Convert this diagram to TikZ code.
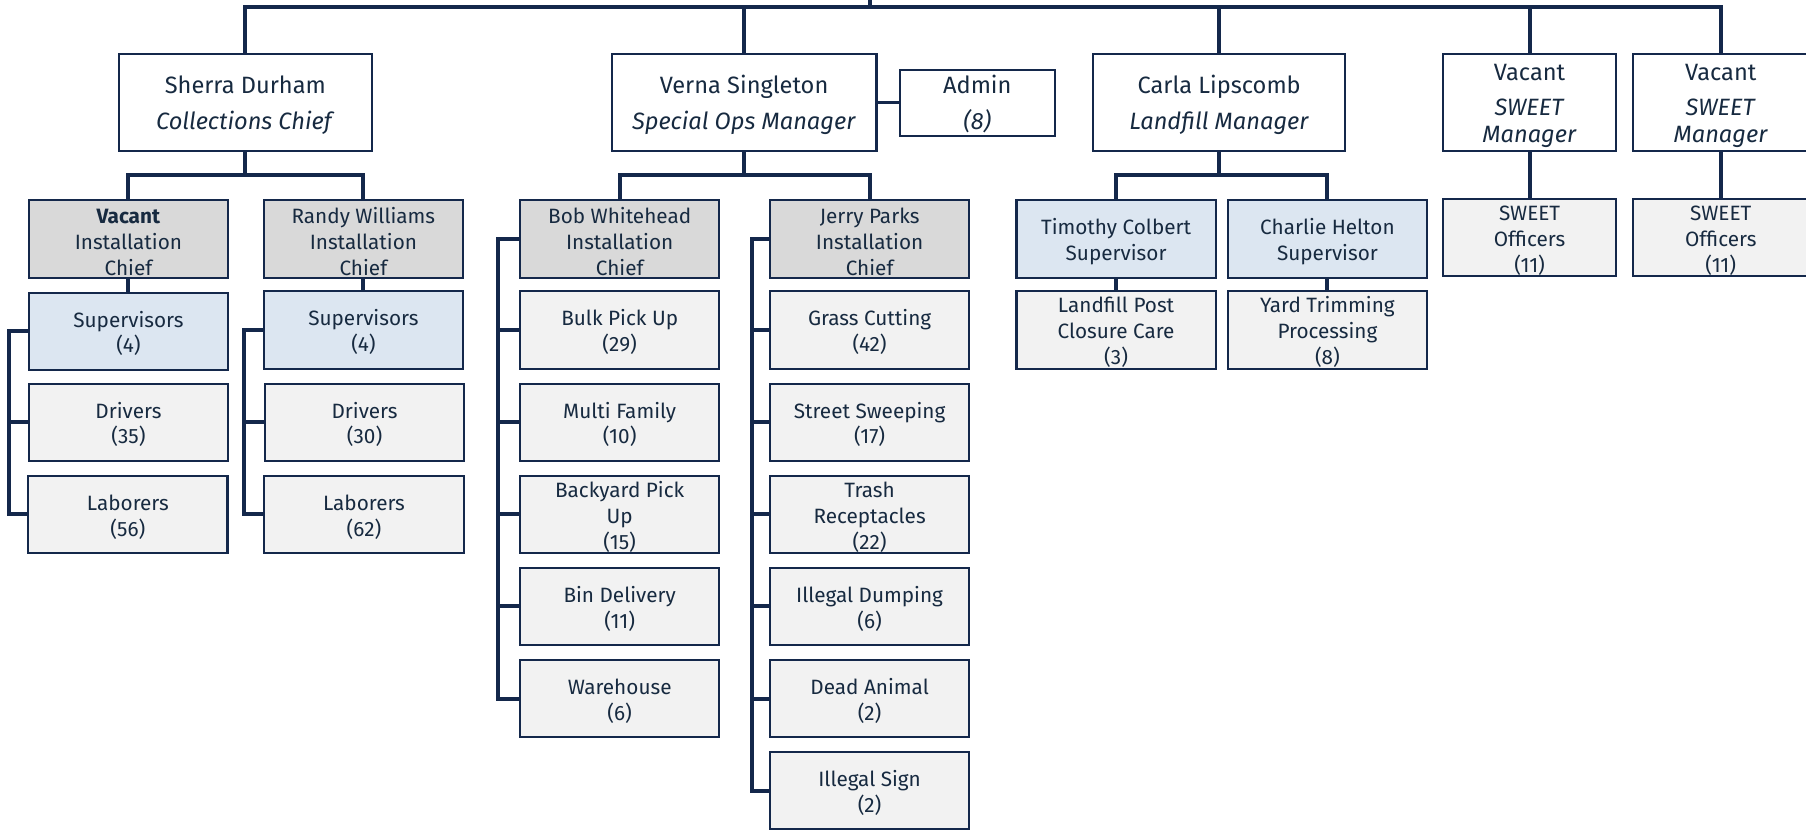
\documentclass[tikz,border=0pt]{standalone}
\usepackage{fontspec}
\setmainfont{Fira Sans}
\definecolor{navy}{HTML}{14284B}
\definecolor{inktext}{HTML}{172A40}
\definecolor{chiefgray}{HTML}{D9D9D9}
\definecolor{supblue}{HTML}{DCE6F1}
\definecolor{unitgray}{HTML}{F2F2F2}
% invisible rule that sets the height of a box's first text line
\newcommand{\firstline}{\rule{0pt}{\strutht}}
\def\strutht{18pt}
\begin{document}
\begin{tikzpicture}[x=1pt,y=-1pt,
  box/.style={draw=navy, line width=1.8pt, text=inktext, align=center, inner sep=0pt,
              font=\fontsize{18}{22.5}\selectfont\def\strutht{18pt}},
  lead/.style={box, fill=white, minimum height=84pt,
               font=\fontsize{20.5}{31}\selectfont\def\strutht{19.8pt}},
  chief/.style={box, fill=chiefgray, minimum width=173pt, minimum height=67pt},
  sup/.style={box, fill=supblue, minimum width=173pt, minimum height=67pt},
  unit/.style={box, fill=unitgray, minimum width=173pt, minimum height=67pt},
  link/.style={draw=navy, line width=3.4pt, line join=miter},
]
\useasboundingbox[fill=white] (0,0) rectangle (1568,727);

% ---- division heads
\node[lead, minimum width=220pt] (sherra) at (213,89) {\firstline Sherra Durham\\\textit{Collections Chief}};
\node[lead, minimum width=230pt] (verna) at (646,89) {\firstline Verna Singleton\\\textit{Special Ops Manager}};
\node[box, fill=white, minimum width=135pt, minimum height=57pt,
      font=\fontsize{20.5}{31}\selectfont\def\strutht{17.6pt}] (admin) at (848.5,89.5) {\firstline Admin\\\textit{(8)}};
\node[lead, minimum width=219pt] (carla) at (1058.5,89) {\firstline Carla Lipscomb\\\textit{Landfill Manager}};
\node[lead, minimum width=150pt] (vac1) at (1328,89) {\firstline Vacant\\\textit{SWEET}\\[-8pt]\textit{Manager}};
\node[lead, minimum width=152pt] (vac2) at (1494,89) {\firstline Vacant\\\textit{SWEET}\\[-8pt]\textit{Manager}};

% ---- second level
\node[chief] (vic) at (111.5,207.5) {\firstline\textbf{Vacant}\\Installation\\Chief};
\node[chief] (rwc) at (315.5,207.5) {\firstline Randy Williams\\Installation\\Chief};
\node[chief] (bwc) at (538,207.5) {\firstline Bob Whitehead\\Installation\\Chief};
\node[chief] (jpc) at (755,207.5) {\firstline Jerry Parks\\Installation\\Chief};
\node[sup] (tcs) at (969,207.5) {\firstline Timothy Colbert\\Supervisor};
\node[sup] (chs) at (1152.5,207.5) {\firstline Charlie Helton\\Supervisor};
\node[unit, minimum width=150pt] (so1) at (1328,206.5) {\firstline SWEET\\Officers\\(11)};
\node[unit, minimum width=152pt] (so2) at (1494,206.5) {\firstline SWEET\\Officers\\(11)};

% ---- collections crews
\node[sup]  (sup1) at (111.5,287.5) {\firstline Supervisors\\(4)};
\node[unit] (drv1) at (111.5,366.5) {\firstline Drivers\\(35)};
\node[unit] (lab1) at (111,446.5) {\firstline Laborers\\(56)};
\node[sup]  (sup2) at (315.5,286.5) {\firstline Supervisors\\(4)};
\node[unit] (drv2) at (316.5,366.5) {\firstline Drivers\\(30)};
\node[unit] (lab2) at (316,446.5) {\firstline Laborers\\(62)};

% ---- special operations units
\node[unit] (bulk)  at (538,286.5) {\firstline Bulk Pick Up\\(29)};
\node[unit] (multi) at (538,366.5) {\firstline Multi Family\\(10)};
\node[unit] (back)  at (538,446.5) {\firstline Backyard Pick\\Up\\(15)};
\node[unit] (bin)   at (538,526.5) {\firstline Bin Delivery\\(11)};
\node[unit] (ware)  at (538,606.5) {\firstline Warehouse\\(6)};
\node[unit] (grass) at (755,286.5) {\firstline Grass Cutting\\(42)};
\node[unit] (sweep) at (755,366.5) {\firstline Street Sweeping\\(17)};
\node[unit] (trash) at (755,446.5) {\firstline Trash\\Receptacles\\(22)};
\node[unit] (dump)  at (755,526.5) {\firstline Illegal Dumping\\(6)};
\node[unit] (dead)  at (755,606.5) {\firstline Dead Animal\\(2)};
\node[unit] (sign)  at (755,686.5) {\firstline Illegal Sign\\(2)};

% ---- landfill units
\node[unit] (lpc) at (969,286.5) {\firstline Landfill Post\\Closure Care\\(3)};
\node[unit] (ytp) at (1152.5,286.5) {\firstline Yard Trimming\\Processing\\(8)};

% ---- connectors
\coordinate (rootup) at (755,0);
\coordinate (hub) at (755,6);
\coordinate (lv2) at (0,152);
\draw[link] (rootup) -- (hub);
\foreach \n in {sherra,verna,carla,vac1,vac2} \draw[link] (hub) -| (\n.north);

\draw[link] (sherra.south) -- (sherra.south |- lv2);
\draw[link] (vic.north) |- (sherra.south |- lv2) -| (rwc.north);
\draw[link] (verna.south) -- (verna.south |- lv2);
\draw[link] (bwc.north) |- (verna.south |- lv2) -| (jpc.north);
\draw[link] (carla.south) -- (carla.south |- lv2);
\draw[link] (tcs.north) |- (carla.south |- lv2) -| (chs.north);
\draw[link] (verna.east) -- (verna.east -| admin.west);

\draw[link] (vac1.south) -- (so1.north);
\draw[link] (vac2.south) -- (so2.north);
\draw[link] (vic.south) -- (sup1.north);
\draw[link] (rwc.south) -- (sup2.north);
\draw[link] (tcs.south) -- (lpc.north);
\draw[link] (chs.south) -- (ytp.north);

% side brackets
\coordinate (b1) at (8,0);
\coordinate (b2) at (212,0);
\coordinate (b3) at (432,0);
\coordinate (b4) at (653,0);
\draw[link] (sup1.west) -- (sup1.west -| b1) |- (lab1.west);
\draw[link] (b1 |- drv1.west) -- (drv1.west);
\draw[link] (sup2.west) -- (sup2.west -| b2) |- (lab2.west);
\draw[link] (b2 |- drv2.west) -- (drv2.west);
\draw[link] (bwc.west) -- (bwc.west -| b3) |- (ware.west);
\foreach \n in {bulk,multi,back,bin} \draw[link] (b3 |- \n.west) -- (\n.west);
\draw[link] (jpc.west) -- (jpc.west -| b4) |- (sign.west);
\foreach \n in {grass,sweep,trash,dump,dead} \draw[link] (b4 |- \n.west) -- (\n.west);
\end{tikzpicture}
\end{document}
